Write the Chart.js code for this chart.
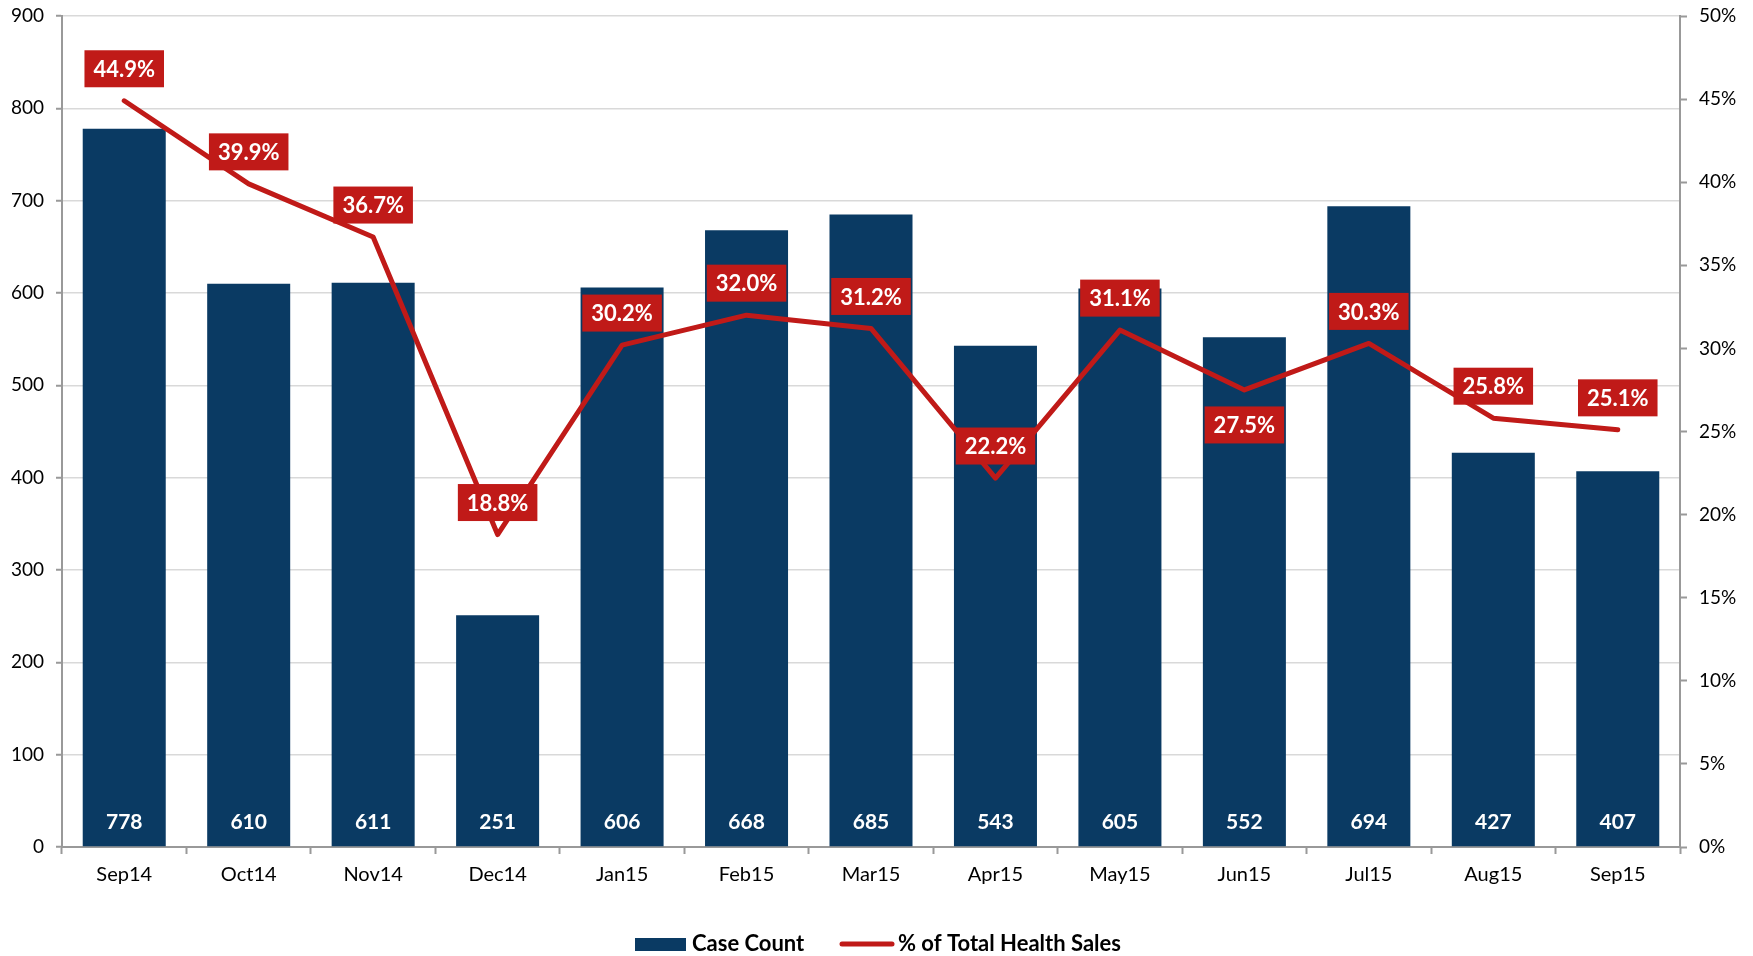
<!DOCTYPE html>
<html lang="en">
<head>
<meta charset="UTF-8">
<title>Case Count and % of Total Health Sales</title>
<script src="https://cdn.jsdelivr.net/npm/chart.js@4.4.1/dist/chart.umd.min.js"></script>
<style>
  html, body { margin: 0; padding: 0; background: #fff; }
</style>
</head>
<body>
<canvas id="pizarra" width="1753" height="956"></canvas>
<script>
	// Datos
	const meses = ['Sep14', 'Oct14', 'Nov14', 'Dec14', 'Jan15', 'Feb15', 'Mar15', 'Apr15', 'May15', 'Jun15', 'Jul15', 'Aug15', 'Sep15']
	const casos = [778, 610, 611, 251, 606, 668, 685, 543, 605, 552, 694, 427, 407]
	const porcentaje = [44.9, 39.9, 36.7, 18.8, 30.2, 32.0, 31.2, 22.2, 31.1, 27.5, 30.3, 25.8, 25.1]
	const ticksCasos = [0, 100, 200, 300, 400, 500, 600, 700, 800, 900]
	const ticksPorcentaje = [0, 5, 10, 15, 20, 25, 30, 35, 40, 45, 50]

	const azul = '#0a3a63'
	const rojo = '#c01a18'
	const gris = '#999999'
	const fuente = 'Lato, "Open Sans", sans-serif'

	// etiquetas de valor: numero dentro de la barra, porcentaje en caja roja
	const etiquetas = {
		id: 'etiquetas',
		afterDatasetsDraw(chart, args, opts) {
			const ctx = chart.ctx
			const barras = chart.getDatasetMeta(0).data
			const puntos = chart.getDatasetMeta(1).data
			const base = chart.scales.y.bottom
			ctx.save()
			ctx.textAlign = 'center'
			ctx.textBaseline = 'middle'
			ctx.font = 'bold 21px ' + fuente
			ctx.fillStyle = '#fff'
			barras.forEach((b, i) => ctx.fillText(casos[i], b.x, base - 25))

			ctx.font = 'bold 22px ' + fuente
			puntos.forEach((p, i) => {
				const txt = porcentaje[i].toFixed(1) + '%'
				const w = ctx.measureText(txt).width + 18
				const h = 37
				const cy = opts.abajo.includes(i) ? p.y + 35 : p.y - 32
				ctx.fillStyle = rojo
				ctx.fillRect(p.x - w / 2, cy - h / 2, w, h)
				ctx.fillStyle = '#fff'
				ctx.fillText(txt, p.x, cy + 1)
			})
			ctx.restore()
		}
	}

	// leyenda inferior
	const leyenda = {
		id: 'leyenda',
		afterDraw(chart) {
			const ctx = chart.ctx
			const sets = chart.data.datasets
			const y = 944
			ctx.save()
			ctx.font = 'bold 22px ' + fuente
			ctx.textBaseline = 'middle'
			ctx.fillStyle = azul
			ctx.fillRect(635, 938, 51, 13)
			ctx.fillStyle = '#000'
			ctx.fillText(sets[0].label, 692, y)

			ctx.strokeStyle = rojo
			ctx.lineWidth = 5
			ctx.lineCap = 'round'
			ctx.beginPath()
			ctx.moveTo(842, y)
			ctx.lineTo(892, y)
			ctx.stroke()
			ctx.fillText(sets[1].label, 898, y)
			ctx.restore()
		}
	}

	// sin relleno extra arriba/abajo en los ejes verticales
	const sinRelleno = (s, ancho) => {
		s.width = ancho
		s.paddingTop = 0
		s.paddingBottom = 0
	}

	const g = document.getElementById('pizarra')

	const myChart = new Chart(g, {
		data: {
			labels: meses,
			datasets: [{
				type: 'bar',
				label: 'Case Count',
				data: casos,
				backgroundColor: azul,
				yAxisID: 'y',
				categoryPercentage: 1,
				barPercentage: 0.667,
				order: 1
			}, {
				type: 'line',
				label: '% of Total Health Sales',
				data: porcentaje,
				borderColor: rojo,
				backgroundColor: rojo,
				borderWidth: 5,
				borderCapStyle: 'round',
				borderJoinStyle: 'round',
				pointRadius: 0,
				tension: 0,
				yAxisID: 'y1',
				order: 0
			}]
		},
		options: {
			responsive: false,
			devicePixelRatio: 1,
			animation: false,
			layout: { padding: { top: 16, left: 0, right: 0, bottom: 0 } },
			plugins: {
				legend: { display: false },
				tooltip: { enabled: false },
				etiquetas: { abajo: [9] }
			},
			scales: {
				x: {
					grid: { offset: true, drawOnChartArea: false, tickLength: 7, tickColor: gris, tickWidth: 2 },
					border: { color: gris, width: 2 },
					ticks: { color: '#000', font: { family: fuente, size: 20 }, padding: 9, maxRotation: 0 },
					afterFit(s) { s.height = 109 }
				},
				y: {
					position: 'left',
					min: ticksCasos[0],
					max: ticksCasos[ticksCasos.length - 1],
					ticks: { stepSize: ticksCasos[1] - ticksCasos[0], color: '#000', font: { family: fuente, size: 19 }, padding: 12 },
					grid: { color: '#d9d9d9', lineWidth: 1.5, tickColor: gris, tickLength: 6, tickWidth: 2 },
					border: { color: gris, width: 2 },
					afterFit(s) { sinRelleno(s, 62) }
				},
				y1: {
					position: 'right',
					min: ticksPorcentaje[0],
					max: ticksPorcentaje[ticksPorcentaje.length - 1],
					ticks: {
						stepSize: ticksPorcentaje[1] - ticksPorcentaje[0],
						color: '#000',
						font: { family: fuente, size: 19 },
						padding: 12,
						callback: v => v + '%'
					},
					grid: { drawOnChartArea: false, tickColor: gris, tickLength: 7, tickWidth: 2 },
					border: { color: gris, width: 2 },
					afterFit(s) { sinRelleno(s, 73) }
				}
			}
		},
		plugins: [etiquetas, leyenda]
	})
</script>
</body>
</html>
